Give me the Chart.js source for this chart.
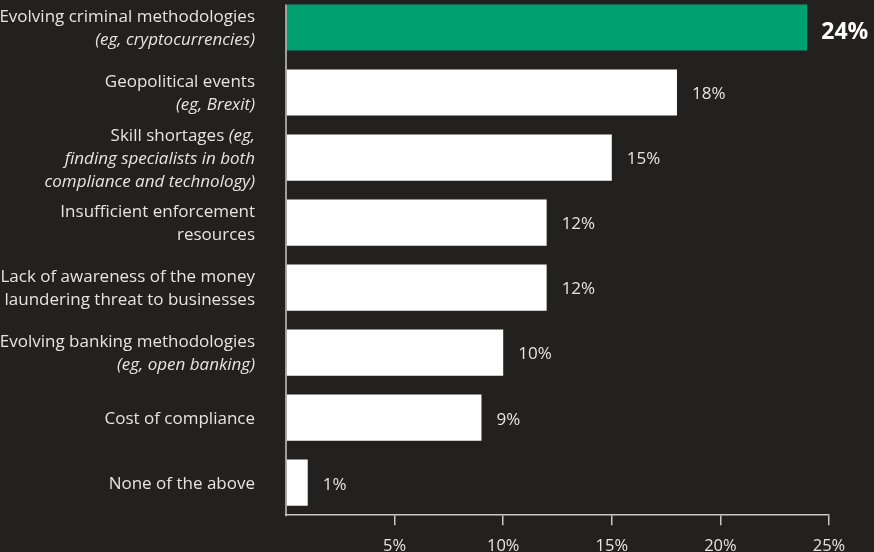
<!DOCTYPE html>
<html>
<head>
<meta charset="utf-8">
<script src="https://cdn.jsdelivr.net/npm/chart.js@4/dist/chart.umd.min.js"></script>
<style>
  html, body { margin: 0; padding: 0; background: #22211f; }
  #wrap { width: 874px; height: 552px; overflow: hidden; }
  #inner { width: 874px; height: 557px; margin-top: -5px; }
</style>
</head>
<body>
<div id="wrap"><div id="inner"><canvas id="chart"></canvas></div></div>
<script>
// each category is a list of lines, each line a list of [text, italic] pieces
const categories = [
  [[['Evolving criminal methodologies', false]], [['(eg, cryptocurrencies)', true]]],
  [[['Geopolitical events', false]], [['(eg, Brexit)', true]]],
  [[['Skill shortages ', false], ['(eg,', true]], [['finding specialists in both', true]], [['compliance and technology)', true]]],
  [[['Insufficient enforcement', false]], [['resources', false]]],
  [[['Lack of awareness of the money', false]], [['laundering threat to businesses', false]]],
  [[['Evolving banking methodologies', false]], [['(eg, open banking)', true]]],
  [[['Cost of compliance', false]]],
  [[['None of the above', false]]]
];
const values = [24, 18, 15, 12, 12, 10, 9, 1];
const tickValues = [5, 10, 15, 20, 25];

const FONT = '"Open Sans", sans-serif';
const GREEN = '#00a071';
const TEXT = '#e4e4e4';
const AXIS = '#c8c8c8';

const labelsPlugin = {
  id: 'labelsPlugin',
  afterDatasetsDraw(chart) {
    const ctx = chart.ctx;
    const y = chart.scales.y;
    const x = chart.scales.x;
    const meta = chart.getDatasetMeta(0);
    ctx.save();

    // category labels, right-aligned left of the axis
    const lineH = 23;
    const right = y.right - 31;
    categories.forEach((lines, i) => {
      const cy = y.getPixelForValue(i) + 1.5;
      const top = cy - (lines.length - 1) * lineH / 2;
      lines.forEach((pieces, li) => {
        let px = right;
        ctx.textBaseline = 'middle';
        ctx.textAlign = 'right';
        for (let k = pieces.length - 1; k >= 0; k--) {
          const [t, it] = pieces[k];
          ctx.font = (it ? 'italic ' : '') + '17px ' + FONT;
          ctx.fillStyle = TEXT;
          ctx.fillText(t, px, top + li * lineH);
          px -= ctx.measureText(t).width;
        }
      });
    });

    // value labels at the bar ends
    meta.data.forEach((bar, i) => {
      ctx.textAlign = 'left';
      ctx.textBaseline = 'middle';
      if (i === 0) {
        ctx.font = 'bold 23px ' + FONT;
        ctx.fillStyle = '#ffffff';
        ctx.fillText(values[i] + '%', bar.x + 14, bar.y + 5);
      } else {
        ctx.font = '17px ' + FONT;
        ctx.fillStyle = TEXT;
        ctx.fillText(values[i] + '%', bar.x + 15, bar.y + 2);
      }
    });

    // vertical axis line
    const first = meta.data[0];
    ctx.strokeStyle = AXIS;
    ctx.lineWidth = 1.5;
    ctx.beginPath();
    ctx.moveTo(x.left, first.y - first.height / 2);
    ctx.lineTo(x.left, y.bottom + 1);
    ctx.stroke();
    ctx.restore();
  }
};

new Chart(document.getElementById('chart'), {
  type: 'bar',
  data: {
    labels: categories.map(c => c.map(l => l.map(p => p[0]).join('')).join(' ')),
    datasets: [{
      data: values,
      backgroundColor: values.map((v, i) => i === 0 ? GREEN : '#ffffff'),
      borderWidth: 0,
      barPercentage: 0.71,
      categoryPercentage: 1
    }]
  },
  options: {
    indexAxis: 'y',
    responsive: true,
    maintainAspectRatio: false,
    animation: false,
    layout: { padding: { top: 0, right: 45, bottom: -15, left: 0 } },
    plugins: { legend: { display: false }, tooltip: { enabled: false } },
    scales: {
      x: {
        min: 0,
        max: 25,
        afterBuildTicks: s => { s.ticks = [0].concat(tickValues).map(v => ({ value: v })); },
        border: { display: true, color: AXIS, width: 1.5 },
        grid: {
          drawOnChartArea: false,
          drawTicks: true,
          tickLength: 10,
          color: ctx => ctx.tick && ctx.tick.value === 0 ? 'rgba(0,0,0,0)' : AXIS,
          lineWidth: 1.5
        },
        ticks: {
          color: TEXT,
          font: { family: FONT, size: 16.5 },
          padding: 11,
          maxRotation: 0,
          callback: v => v === 0 ? '' : v + '%'
        }
      },
      y: {
        afterFit: s => { s.width = 286; },
        border: { display: false },
        grid: { display: false },
        ticks: { display: false }
      }
    }
  },
  plugins: [labelsPlugin]
});
</script>
</body>
</html>
